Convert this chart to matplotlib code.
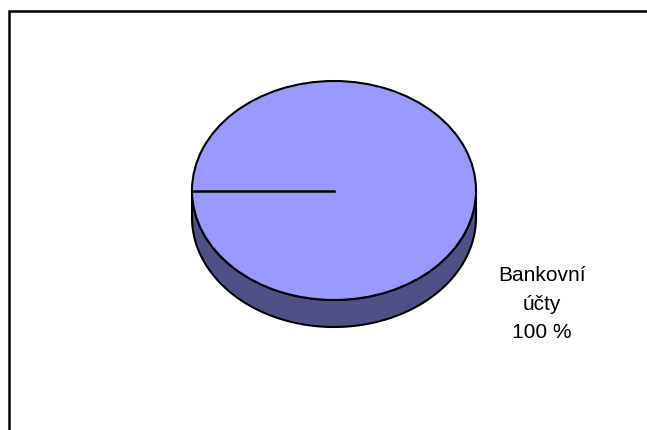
import numpy as np
import matplotlib.pyplot as plt
from matplotlib.patches import Polygon, Rectangle

plt.rcParams['font.family'] = ['Liberation Sans', 'DejaVu Sans']

# Data
labels = ["Bankovní\núčty"]
values = [100]
colors = ["#9999FF"]
side_colors = ["#505088"]

W, H = 647, 430
fig = plt.figure(figsize=(W / 100, H / 100), dpi=100)

# chart frame (runs off the right and bottom of the figure)
fig.patches.append(Rectangle((8.5 / W, -0.1), 1.2, (H - 11.5) / H + 0.1,
                             transform=fig.transFigure, fill=False,
                             edgecolor="black", linewidth=1.8))

# pie geometry in pixels
cx, cy, rx, ry, depth = 334, 190.5, 142, 109.5, 27
ax = fig.add_axes([(cx - rx) / W, (H - cy - ry) / H, 2 * rx / W, 2 * ry / H])
ax.set_xlim(-1, 1)
ax.set_ylim(-1, 1)
ax.axis("off")
d = 2 * depth / (2 * ry)

fracs = np.array(values, dtype=float) / sum(values)
start = 180.0
edges = start + 360 * np.concatenate([[0], np.cumsum(fracs)])

# side wall: only the front (lower) half of the rim is visible
for i in range(len(values)):
    a0, a1 = edges[i], edges[i + 1]
    segs = []
    for k in range(-1, 2):
        lo, hi = max(a0, 180 + 360 * k), min(a1, 360 + 360 * k)
        if hi > lo:
            segs.append((lo, hi))
    for lo, hi in segs:
        t = np.radians(np.linspace(lo, hi, 200))
        top = np.column_stack([np.cos(t), np.sin(t)])
        bot = top[::-1] - [0, d]
        ax.add_patch(Polygon(np.vstack([top, bot]), closed=True,
                             facecolor=side_colors[i], edgecolor="black",
                             linewidth=1.5, clip_on=False))

# top face
wedges, _ = ax.pie(values, colors=colors, startangle=start, counterclock=True,
                   wedgeprops=dict(edgecolor="black", linewidth=1.5))
for w in wedges:
    w.set_clip_on(False)
ax.set_aspect("auto")
ax.set_xlim(-1, 1)
ax.set_ylim(-1, 1)

# slice boundaries
for a in edges[:-1]:
    r = np.radians(a)
    ax.plot([0, np.cos(r)], [0, np.sin(r)], color="black", linewidth=1.8,
            clip_on=False)

# label
for lab, v in zip(labels, values):
    fig.text(542 / W, (H - 304) / H, f"{lab}\n{v} %", ha="center",
             va="center", fontsize=15, linespacing=1.65, color="black")

fig.savefig("out.png", dpi=100)
